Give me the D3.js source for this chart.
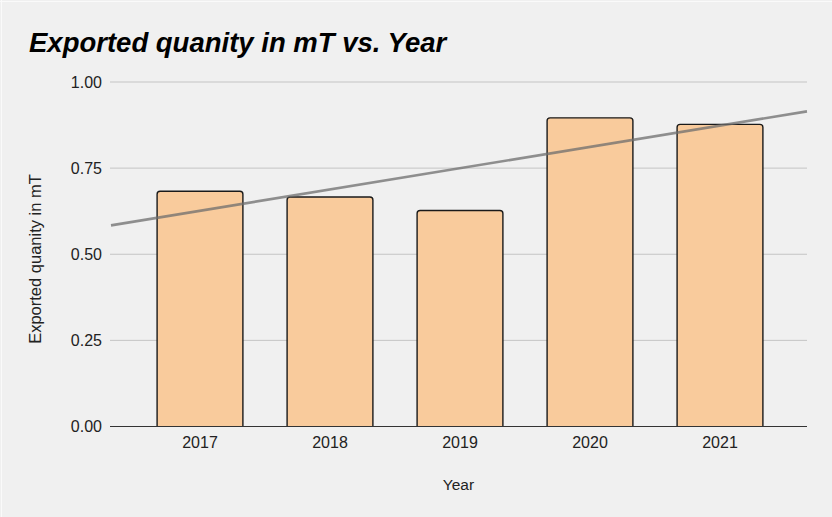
<!DOCTYPE html>
<html>
<head>
<meta charset="utf-8">
<script src="https://cdn.jsdelivr.net/npm/d3@7/dist/d3.min.js"></script>
<style>
  html, body { margin: 0; padding: 0; background: #f0f0f0; }
  svg { display: block; font-family: Arial, "Liberation Sans", Helvetica, sans-serif; }
</style>
</head>
<body>
<svg id="chart" width="832" height="517"></svg>
<script>
const categories = ["2017", "2018", "2019", "2020", "2021"];
const values = [0.683, 0.666, 0.627, 0.896, 0.877];
const yTicks = [0, 0.25, 0.5, 0.75, 1.0];
const title = "Exported quanity in mT vs. Year";
const xTitle = "Year";
const yTitle = "Exported quanity in mT";

const W = 832, H = 517;
const axisLeft = 110, axisRight = 807;
const plotTop = 82, plotBottom = 426.5;

const svg = d3.select("#chart");
svg.append("rect").attr("width", W).attr("height", H).attr("fill", "#f0f0f0");
svg.append("line").attr("x1", 1.5).attr("x2", 1.5).attr("y1", 0).attr("y2", H)
  .attr("stroke", "#fafafa").attr("stroke-width", 1);
svg.append("line").attr("x1", 0).attr("x2", W).attr("y1", 1.5).attr("y2", 1.5)
  .attr("stroke", "#fafafa").attr("stroke-width", 1);

const x = d3.scaleBand().domain(categories).range([135, 785]).paddingInner(0.34).paddingOuter(0.17);
const y = d3.scaleLinear().domain([0, 1]).range([plotBottom, plotTop]);

// gridlines
svg.append("g").selectAll("line").data(yTicks.filter(d => d > 0)).join("line")
  .attr("x1", axisLeft).attr("x2", axisRight)
  .attr("y1", d => y(d)).attr("y2", d => y(d))
  .attr("stroke", "#c4c4c4").attr("stroke-width", 1);

// y tick labels
const yAxis = d3.axisLeft(y).tickValues(yTicks).tickFormat(d3.format(".2f")).tickSize(0).tickPadding(8);
const gy = svg.append("g").attr("transform", `translate(${axisLeft},0)`).call(yAxis);
gy.select(".domain").remove();
gy.selectAll("text").attr("font-size", 16).attr("fill", "#222").attr("font-family", "Arial, 'Liberation Sans', sans-serif");

// bars
const bw = x.bandwidth();
svg.append("g").selectAll("path").data(categories).join("path")
  .attr("d", (c, i) => {
    const x0 = x(c), x1 = x0 + bw, yt = y(values[i]), yb = y(0), r = 3;
    return `M${x0},${yb} L${x0},${yt + r} Q${x0},${yt} ${x0 + r},${yt} L${x1 - r},${yt} Q${x1},${yt} ${x1},${yt + r} L${x1},${yb}`;
  })
  .attr("fill", "#f9cb9c").attr("stroke", "#1a1a1a").attr("stroke-width", 1.4);

// baseline
svg.append("line").attr("x1", axisLeft).attr("x2", axisRight)
  .attr("y1", y(0)).attr("y2", y(0)).attr("stroke", "#333").attr("stroke-width", 1.2);

// trendline (linear regression over category index)
const n = values.length;
const idx = d3.range(n);
const mx = d3.mean(idx), my = d3.mean(values);
const slope = d3.sum(idx, i => (i - mx) * (values[i] - my)) / d3.sum(idx, i => (i - mx) ** 2);
const icpt = my - slope * mx;
const step = x.step();
const c0 = x(categories[0]) + bw / 2;
const xToIdx = px => (px - c0) / step;
const tx0 = axisLeft + 1, tx1 = axisRight;
svg.append("line")
  .attr("x1", tx0).attr("y1", y(icpt + slope * xToIdx(tx0)))
  .attr("x2", tx1).attr("y2", y(icpt + slope * xToIdx(tx1)))
  .attr("stroke", "#6e6e6e").attr("stroke-opacity", 0.75).attr("stroke-width", 2.6);

// x tick labels
const xAxis = d3.axisBottom(x).tickSize(0).tickPadding(10);
const gx = svg.append("g").attr("transform", `translate(0,${y(0)})`).call(xAxis);
gx.select(".domain").remove();
gx.selectAll("text").attr("font-size", 16).attr("fill", "#222").attr("font-family", "Arial, 'Liberation Sans', sans-serif");

// titles
svg.append("text").attr("x", 29).attr("y", 52).text(title)
  .attr("font-size", 27.5).attr("font-weight", "bold").attr("font-style", "italic").attr("fill", "#000");
svg.append("text").attr("x", (axisLeft + axisRight) / 2).attr("y", 490).attr("text-anchor", "middle")
  .text(xTitle).attr("font-size", 15.5).attr("fill", "#222");
svg.append("text").attr("transform", `translate(41,259) rotate(-90)`)
  .attr("text-anchor", "middle").text(yTitle).attr("font-size", 16.5).attr("fill", "#222");
</script>
</body>
</html>
